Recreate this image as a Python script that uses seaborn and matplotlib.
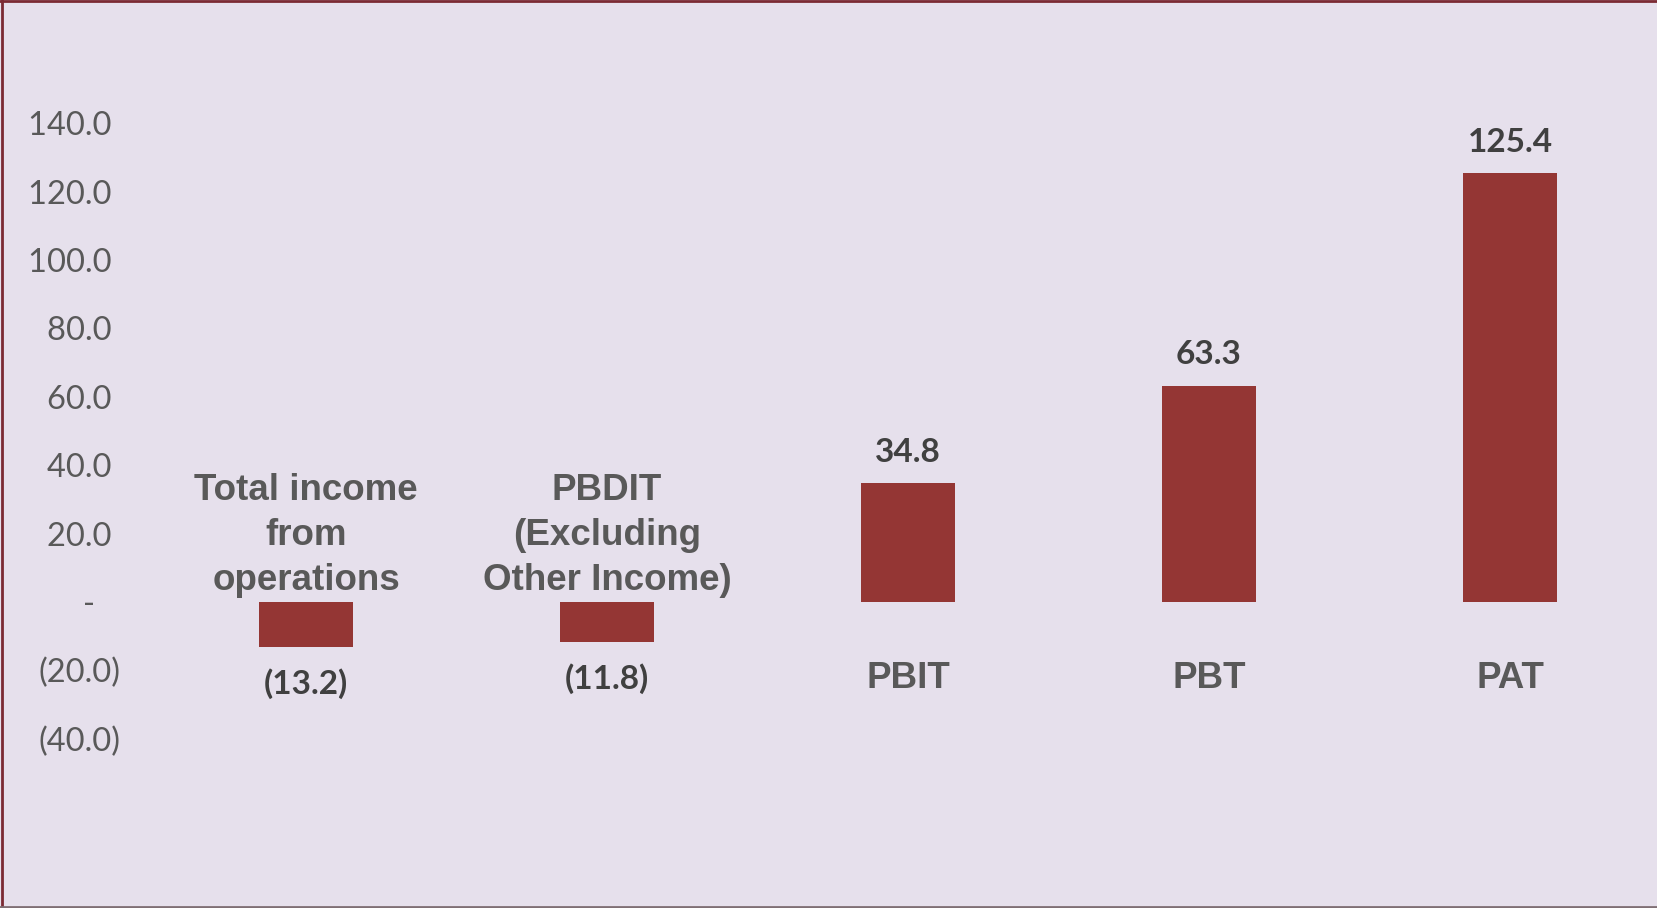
import matplotlib
matplotlib.use("Agg")
import matplotlib.pyplot as plt
from matplotlib.lines import Line2D
import seaborn as sns
import pandas as pd

# chart data
categories = ["Total income\nfrom\noperations", "PBDIT\n(Excluding\nOther Income)", "PBIT", "PBT", "PAT"]
values = [-13.2, -11.8, 34.8, 63.3, 125.4]
y_ticks = [-40, -20, 0, 20, 40, 60, 80, 100, 120, 140]

bg = "#E6E0EC"
bar_color = "#943634"
label_gray = "#595959"
value_gray = "#404040"


def tick_fmt(v):
    if v == 0:
        return "-   "
    if v < 0:
        return "({:.1f})".format(-v)
    return "{:.1f} ".format(v)


def value_fmt(v):
    if v < 0:
        return "({:.1f})".format(-v)
    return "{:.1f}".format(v)


df = pd.DataFrame({"category": categories, "value": values})

fig = plt.figure(figsize=(16.57, 9.08), dpi=100, facecolor=bg)
ax = fig.add_axes([155.5 / 1657, 101 / 908, 1 - 155.5 / 1657, (807 - 55) / 908])
ax.set_facecolor(bg)

sns.barplot(data=df, x="category", y="value", color=bar_color, saturation=1,
            width=0.31, ax=ax)

ax.set_xlim(-0.5, 4.5 - 3.5 / 301)
ax.set_ylim(-60, 160)
ax.set_xticks([])
ax.set_yticks(y_ticks)
ax.set_yticklabels([tick_fmt(t) for t in y_ticks], fontfamily="Lato",
                   fontsize=23.5, color=label_gray)
ax.tick_params(axis="y", length=0, pad=25.5)
ax.set_xlabel("")
ax.set_ylabel("")
for s in ax.spines.values():
    s.set_visible(False)

# value labels and category labels
for i, v in enumerate(values):
    off = 22 if v > 0 else -26
    ax.annotate(value_fmt(v), (i, v), xytext=(0, off), textcoords="offset points",
                ha="center", va="center", fontfamily="Lato", fontweight="bold",
                fontsize=24, color=value_gray)
    if v < 0:
        ax.annotate(categories[i], (i, 0), xytext=(0, 3), textcoords="offset points",
                    ha="center", va="bottom", multialignment="center",
                    fontfamily="Liberation Sans", fontweight="bold", fontsize=26.5,
                    color=label_gray, linespacing=1.36)
    else:
        ax.annotate(categories[i], (i, 0), xytext=(0, -55), textcoords="offset points",
                    ha="center", va="center", fontfamily="Liberation Sans",
                    fontweight="bold", fontsize=26.5, color=label_gray)

# frame around the slide
fig.add_artist(Line2D([0.0015, 0.0015], [0, 1], transform=fig.transFigure,
                      color="#7B2A33", lw=2))
fig.add_artist(Line2D([0, 1], [0.9985, 0.9985], transform=fig.transFigure,
                      color="#7B2A33", lw=2))
fig.add_artist(Line2D([0, 1], [0.0015, 0.0015], transform=fig.transFigure,
                      color="#7F6F74", lw=2))

fig.savefig("out.png", dpi=100, facecolor=bg)
